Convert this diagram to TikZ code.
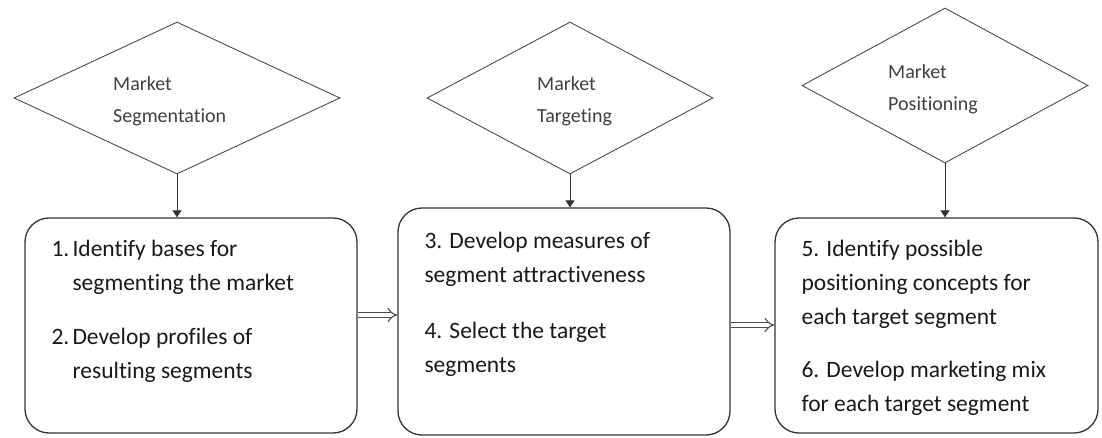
\documentclass[tikz,border=0pt]{standalone}
\usepackage{fontspec}
\setmainfont[Ligatures=NoCommon]{Carlito}
\usetikzlibrary{shapes.geometric,arrows.meta}

\tikzset{
  gate/.style={draw=black!70, line width=0.9pt, diamond, inner sep=0pt, minimum height=152pt},
  stage/.style={draw=black!80, line width=1.3pt, rectangle, rounded corners=24pt, inner sep=0pt, minimum width=332pt, minimum height=215pt},
  gatetext/.style={anchor=north west, align=left, inner sep=0pt, text=black!75, font=\fontsize{20}{32}\selectfont},
  stagetext/.style={anchor=north west, align=left, inner sep=0pt, text=black!90, font=\fontsize{23.5}{34}\selectfont},
  feed/.style={-{Triangle[width=9pt,length=7pt]}, line width=0.9pt, draw=black!80},
  flow/.style={double=white, double distance=4pt, line width=1.1pt, -{Implies}, draw=black!70}
}

\begin{document}
\begin{tikzpicture}[x=1pt,y=1pt]
		\useasboundingbox (0,0) rectangle (1102,437);
		% the three decisions
		\node[gate, minimum width=326pt] (seg) at (177,339) {};
		\node[gate, minimum width=286pt] (tar) at (570,339) {};
		\node[gate, minimum width=286pt, minimum height=155pt] (pos) at (945,351.5) {};
		\node[gatetext] (segtxt) at ([xshift=-64pt,yshift=22pt]seg.center) {Market\\Segmentation};
		\node[gatetext] (tartxt) at ([xshift=-33pt,yshift=22pt]tar.center) {Market\\Targeting};
		\node[gatetext] (postxt) at ([xshift=-57pt,yshift=21pt]pos.center) {Market\\Positioning};
		% the steps
		\node[stage] (s1) at (191,111.5) {};
		\node[stage, minimum height=227pt] (s2) at (564,115.5) {};
		\node[stage, minimum width=323pt] (s3) at (936.5,111.5) {};
		\node[stagetext] (s1txt) at ([xshift=27pt,yshift=-23pt]s1.north west)
			{\makebox[21pt][l]{1.}Identify bases for\\\hspace*{21pt}segmenting the market\\[20pt]\makebox[21pt][l]{2.}Develop profiles of\\\hspace*{21pt}resulting segments};
		\node[stagetext] (s2txt) at ([xshift=27pt,yshift=-25pt]s2.north west)
			{3. Develop measures of\\segment attractiveness\\[22pt]4. Select the target\\segments};
		\node[stagetext] (s3txt) at ([xshift=27pt,yshift=-23pt]s3.north west)
			{5. Identify possible\\positioning concepts for\\each target segment\\[19pt]6. Develop marketing mix\\for each target segment};
		% connectors
		\draw[feed] (seg.south) -- (seg.south |- s1.north);
		\draw[feed] (tar.south) -- (tar.south |- s2.north);
		\draw[feed] (pos.south) -- (pos.south |- s3.north);
		\draw[flow] ([yshift=10.5pt]s1.east) -- ([yshift=10.5pt]s1.east -| s2.west);
		\draw[flow] ([yshift=-3.5pt]s2.east) -- ([yshift=-3.5pt]s2.east -| s3.west);
\end{tikzpicture}
\end{document}
